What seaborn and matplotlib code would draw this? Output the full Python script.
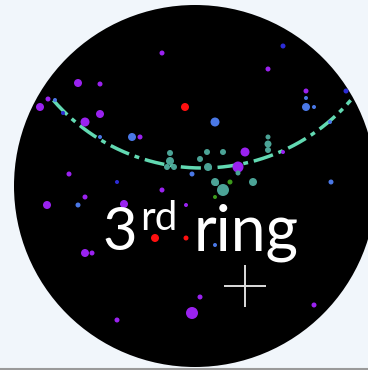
import numpy as np
import pandas as pd
import matplotlib
matplotlib.use("Agg")
import matplotlib.pyplot as plt
from matplotlib.patches import Circle
import seaborn as sns

# Detector hits: pixel-style coordinates (x right, y down), marker radius, hit type
hit_x = [162, 78, 100, 40, 48, 100, 85, 140, 69, 268, 306, 245, 238, 283, 162,
         47, 85, 124, 85, 92, 117, 186, 200, 192, 314,
         55, 100, 132, 306, 314, 306, 215, 192, 331, 330, 78, 215,
         63, 117, 283, 346,
         185, 155, 186,
         170, 170, 167, 174, 207, 223, 200, 208, 268, 268, 268, 253, 223, 215, 238, 216,
         230, 215]
hit_y = [53, 83, 84, 107, 99, 114, 122, 137, 174, 69, 91, 152, 167, 152, 190,
         205, 197, 204, 253, 253, 320, 205, 297, 313, 305,
         100, 137, 137, 107, 107, 98, 122, 174, 182, 122, 205, 245,
         113, 182, 46, 91,
         107, 238, 238,
         153, 161, 167, 167, 152, 152, 159, 167, 137, 144, 150, 182, 190, 182, 173, 183,
         182, 197]
hit_r = [2.5, 4, 2.5, 4, 2.5, 4, 4.5, 2.5, 2.5, 2.5, 2.5, 4.5, 5.5, 2, 2.5,
         4, 2.5, 4, 4, 2.5, 2.5, 2, 2.5, 6, 2.5,
         2, 2, 4, 4, 2, 2, 4.5, 2.5, 2.5, 2, 2.5, 2,
         2, 2, 2.5, 2.5,
         4, 4, 2.5,
         3, 4, 3, 3, 3, 3, 3, 4, 2.5, 3.5, 3, 4, 6, 4, 2.5, 3,
         2.5, 2]
hit_kind = (["purple"] * 25 + ["blue"] * 12 + ["darkblue"] * 4 + ["red"] * 3
            + ["teal"] * 16 + ["green"] * 2)

# Detector disc and the fitted ring
disc_center = (195, 186)
disc_radius = 181
ring_center = (202, -29)
ring_radius = 197
ring_span_deg = (-49, 49)

# Trigger position
cross_x = [245]
cross_y = [286]

palette = {"purple": "#9a22f0", "blue": "#4a78e6", "darkblue": "#2c2cd6",
           "red": "#ff1010", "teal": "#4ba396", "green": "#3c9a1c"}

df = pd.DataFrame({"x": hit_x, "y": hit_y, "r": hit_r, "kind": hit_kind})

sns.set_theme(style="white")
fig = plt.figure(figsize=(3.68, 3.70), dpi=100)
fig.patch.set_facecolor("#f1f6fb")
ax = fig.add_axes([0, 0, 1, 1])
ax.set_facecolor("#f1f6fb")
ax.set_xlim(0, 368)
ax.set_ylim(370, 0)
ax.axis("off")

ax.add_patch(Circle(disc_center, disc_radius, facecolor="black", edgecolor="none", zorder=1))

t = np.radians(np.linspace(ring_span_deg[0], ring_span_deg[1], 300))
ax.plot(ring_center[0] + ring_radius * np.sin(t), ring_center[1] + ring_radius * np.cos(t),
        color="#62d9b2", lw=2.5, linestyle=(0, (5.8, 1.7, 1.4, 1.7)),
        solid_capstyle="butt", zorder=2)

# marker area in points^2 from pixel radius (72 pt per 100 px)
size_map = {r: (2 * r * 0.72) ** 2 for r in sorted(set(hit_r))}
sns.scatterplot(data=df, x="x", y="y", hue="kind", palette=palette, size="r",
                sizes=size_map, linewidth=0, legend=False, ax=ax, zorder=3)

ax.scatter(cross_x, cross_y, marker="+", s=900, color="#dcdcdc", linewidths=1.4, zorder=5)

ax.text(102, 250, "3", color="white", fontsize=43, family="Lato", ha="left", va="baseline", zorder=4)
ax.text(140, 230, "rd", color="white", fontsize=29, family="Lato", ha="left", va="baseline", zorder=4)
ax.text(194, 250, "ring", color="white", fontsize=45, family="Lato", ha="left", va="baseline", zorder=4)

ax.axhline(369, color="#9a9a9a", lw=1.5, zorder=6)

fig.savefig("out.png", dpi=100, facecolor=fig.get_facecolor())
